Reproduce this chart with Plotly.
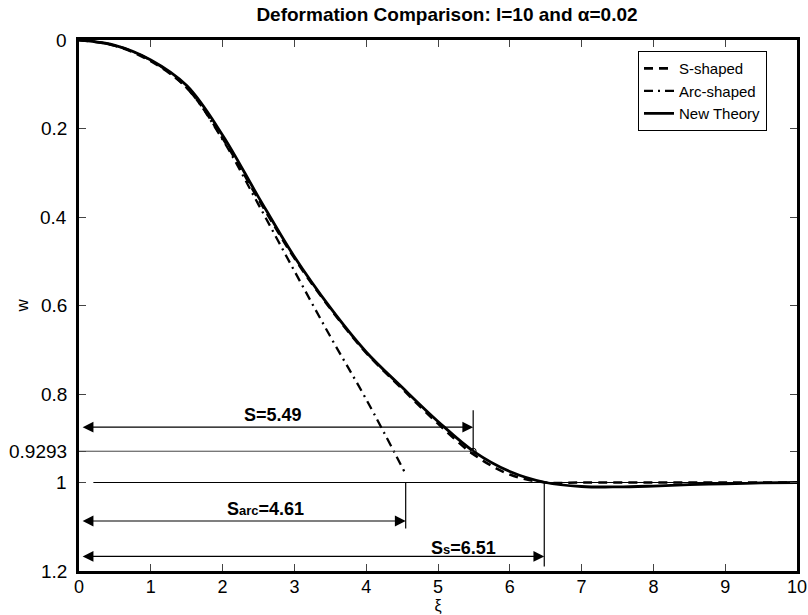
import plotly.graph_objects as go

# ---- data ----
xi_new = [0, 0.5, 1, 1.5, 2, 2.5, 3, 3.5, 4, 4.5, 5, 5.5, 6, 6.5, 7, 7.5, 8, 8.5, 9, 9.5, 10]
w_new = [0, 0.012, 0.045, 0.103, 0.215, 0.355, 0.49, 0.605, 0.705, 0.785, 0.862, 0.93, 0.975,
         1.0, 1.009, 1.01, 1.008, 1.005, 1.003, 1.001, 1.0]

xi_s = [0, 0.5, 1, 1.5, 2, 2.5, 3, 3.5, 4, 4.5, 5, 5.5, 6, 6.5, 7, 8, 9, 10]
w_s = [0, 0.013, 0.048, 0.108, 0.222, 0.36, 0.493, 0.607, 0.707, 0.788, 0.867, 0.937, 0.982,
       1.0, 1.0, 1.0, 1.0, 1.0]

xi_arc = [0, 0.5, 1, 1.5, 2, 2.5, 3, 3.5, 4, 4.54]
w_arc = [0, 0.012, 0.046, 0.108, 0.225, 0.372, 0.522, 0.67, 0.812, 0.978]

yticks = [0, 0.2, 0.4, 0.6, 0.8, 0.9293, 1, 1.2]
ytick_text = ["0", "0.2", "0.4", "0.6", "0.8", "0.9293", "1", "1.2"]
xticks = list(range(0, 11))

w_cross = 0.9293                   # deflection level of the marked point
S_vals = [5.49, 4.61, 6.51]        # S, S_arc, S_s (label values)
S_pos = [5.49, 4.55, 6.48]         # where the markers sit in the picture
S_labels = ["S=5.49",
            "S<span style='font-size:13px'>arc</span>=4.61",
            "S<span style='font-size:13px'>s</span>=6.51"]

FONT = "Liberation Sans, Arial, Helvetica, sans-serif"
L, R, T, B = 79, 11, 40, 44
PLOT_W = 808 - L - R

fig = go.Figure()
fig.add_trace(go.Scatter(x=xi_s, y=w_s, mode="lines", name="S-shaped",
                         line=dict(color="black", width=2.6, dash="9px,6px", shape="spline")))
fig.add_trace(go.Scatter(x=xi_arc, y=w_arc, mode="lines", name="Arc-shaped",
                         line=dict(color="black", width=2.3, dash="9px,5px,2px,5px", shape="spline")))
fig.add_trace(go.Scatter(x=xi_new, y=w_new, mode="lines", name="New Theory",
                         line=dict(color="black", width=2.8, shape="spline")))

# thin reference lines
fig.add_trace(go.Scatter(x=[0, S_pos[0]], y=[w_cross, w_cross], mode="lines", showlegend=False,
                         line=dict(color="#444", width=1)))
fig.add_trace(go.Scatter(x=[0.2, 10], y=[1, 1], mode="lines", showlegend=False,
                         line=dict(color="black", width=1)))
# marked point
fig.add_trace(go.Scatter(x=[S_pos[0]], y=[w_cross], mode="markers", showlegend=False,
                         marker=dict(symbol="circle-open", size=6, color="black", line=dict(width=1))))

# vertical markers
vert = [(S_pos[0], 0.837, w_cross), (S_pos[1], 1.0, 1.104), (S_pos[2], 1.0, 1.19)]
for xv, y0, y1 in vert:
    fig.add_trace(go.Scatter(x=[xv, xv], y=[y0, y1], mode="lines", showlegend=False,
                             line=dict(color="black", width=1.2)))

# double arrows
arrow_y = [0.875, 1.087, 1.167]
for xv, ya in zip(S_pos, arrow_y):
    fig.add_annotation(x=xv, y=ya, ax=0.03, ay=ya, xref="x", yref="y", axref="x", ayref="y",
                       showarrow=True, arrowhead=2, startarrowhead=2, arrowside="end+start",
                       arrowsize=1.8, startarrowsize=1.8, arrowwidth=1.2, arrowcolor="black",
                       text="")

label_pos = [(2.70, 0.848), (2.60, 1.06), (5.35, 1.147)]
for (lx, ly), txt in zip(label_pos, S_labels):
    fig.add_annotation(x=lx, y=ly, xref="x", yref="y", text="<b>" + txt + "</b>",
                       showarrow=False, font=dict(family=FONT, size=18, color="black"))

# y tick labels (placed right-aligned 9px left of the axis)
for tv, tt in zip(yticks, ytick_text):
    fig.add_annotation(x=-10 / PLOT_W, y=tv, xref="paper", yref="y", text=tt,
                       xanchor="right", yanchor="middle", showarrow=False,
                       font=dict(family=FONT, size=19, color="black"))

# y label
fig.add_annotation(x=-57 / PLOT_W, y=0.6, xref="paper", yref="y", text="w", textangle=-90,
                   xanchor="center", yanchor="middle", showarrow=False,
                   font=dict(family=FONT, size=17, color="black"))

fig.update_layout(
    width=808, height=615,
    margin=dict(l=L, r=R, t=T, b=B, autoexpand=False),
    paper_bgcolor="white", plot_bgcolor="white",
    font=dict(family=FONT, size=19, color="black"),
    title=dict(text="<b>Deformation Comparison: l=10 and \u03b1=0.02</b>",
               x=447 / 808, xref="container", xanchor="center",
               y=1 - 14 / 615, yref="container", yanchor="middle",
               font=dict(family=FONT, size=19, color="black")),
    legend=dict(x=(767 - L) / PLOT_W, y=0.979, xanchor="right", yanchor="top",
                bgcolor="white", bordercolor="black", borderwidth=1,
                font=dict(family=FONT, size=15), tracegroupgap=0, itemwidth=30),
    xaxis=dict(range=[0, 10], tickvals=xticks, ticks="inside", ticklen=7, tickwidth=1,
               showline=True, linewidth=3, linecolor="black", mirror="ticks",
               showgrid=False, zeroline=False, automargin=False, ticklabelstandoff=-3,
               tickfont=dict(family=FONT, size=18),
               title=dict(text="\u03be", standoff=5, font=dict(family=FONT, size=16))),
    yaxis=dict(range=[1.2, 0], tickvals=yticks, showticklabels=False, ticks="inside",
               ticklen=7, tickwidth=1, showline=True, linewidth=3, linecolor="black",
               mirror="ticks", showgrid=False, zeroline=False, automargin=False),
)

fig.write_html("out.html", config={"displayModeBar": False},
               post_script="document.body.style.margin='0';document.body.style.overflow='hidden';")
